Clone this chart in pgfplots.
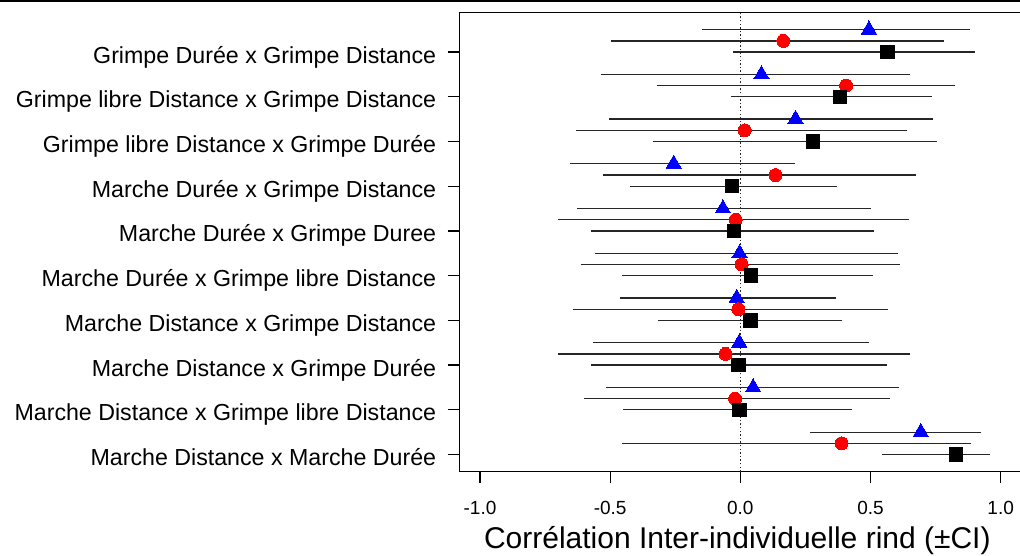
\documentclass[border=0pt]{standalone}
\usepackage{fontspec}
\setmainfont{Liberation Sans}
\usepackage{pgfplots}
\pgfplotsset{compat=1.18}
\usepackage{pgfplotstable}

% squares (black): y = category position
\pgfplotstableread{
y x lo hi
10 0.565 -0.030 0.901
9 0.383 -0.037 0.736
8 0.279 -0.335 0.754
7 -0.032 -0.425 0.372
6 -0.024 -0.573 0.513
5 0.042 -0.455 0.508
4 0.039 -0.317 0.390
3 -0.007 -0.573 0.565
2 -0.004 -0.451 0.429
1 0.828 0.544 0.958
}\sqtab

% circles (red)
\pgfplotstableread{
y x lo hi
10.25 0.165 -0.496 0.783
9.25 0.406 -0.321 0.826
8.25 0.017 -0.630 0.641
7.25 0.135 -0.526 0.675
6.25 -0.018 -0.701 0.646
5.25 0.005 -0.612 0.614
4.25 -0.008 -0.643 0.569
3.25 -0.057 -0.701 0.651
2.25 -0.020 -0.602 0.575
1.25 0.389 -0.454 0.887
}\cirtab

% triangles (blue)
\pgfplotstableread{
y x lo hi
10.5 0.494 -0.149 0.883
9.5 0.081 -0.535 0.651
8.5 0.212 -0.506 0.740
7.5 -0.256 -0.653 0.209
6.5 -0.067 -0.626 0.500
5.5 -0.003 -0.559 0.604
4.5 -0.014 -0.464 0.367
3.5 -0.004 -0.567 0.494
2.5 0.049 -0.516 0.608
1.5 0.693 0.268 0.924
}\tritab

\begin{document}
\begin{tikzpicture}[x=1pt,y=1pt]
\draw[line width=1.6pt] (0,554.2) -- (1020,554.2);
\begin{axis}[
  at={(459.2pt,83.5pt)}, anchor=south west,
  scale only axis, width=562.3pt, height=458.8pt,
  xmin=-1.08, xmax=1.08, ymin=0.62, ymax=10.88,
  axis line style={line width=1.4pt},
  xtick={-1,-0.5,0,0.5,1},
  xticklabels={-1.0,-0.5,0.0,0.5,1.0},
  ytick={1,2,3,4,5,6,7,8,9,10},
  yticklabels={Marche Distance x Marche Durée,
    Marche Distance x Grimpe libre Distance,
    Marche Distance x Grimpe Durée,
    Marche Distance x Grimpe Distance,
    Marche Durée x Grimpe libre Distance,
    Marche Durée x Grimpe Duree,
    Marche Durée x Grimpe Distance,
    Grimpe libre Distance x Grimpe Durée,
    Grimpe libre Distance x Grimpe Distance,
    Grimpe Durée x Grimpe Distance},
  tick align=outside, xtick pos=bottom, ytick pos=left,
  major tick length=11.5pt,
  every tick/.style={line width=1.3pt, black},
  xticklabel style={font=\fontsize{19}{21}\selectfont, anchor=base, yshift=-31.3pt},
  yticklabel style={font=\fontsize{23.2}{26}\selectfont, anchor=base east, xshift=-8pt, yshift=-11pt},
  xlabel={Corrélation Inter-individuelle rind (±CI)},
  xlabel style={font=\fontsize{30}{32}\selectfont, at={(axis description cs:0.5,0)}, anchor=base, xshift=-3pt, yshift=-76.8pt},
  clip=false,
  error bars/error bar style={line width=1.3pt, black!85},
]
\draw[line width=1.3pt, dash pattern=on 1.4pt off 2.2pt, black!85] (axis cs:0,0.62) -- (axis cs:0,10.88);

\addplot[only marks, mark=triangle*, mark size=8.8pt,
  mark options={fill=blue, draw=blue, line width=0pt},
  error bars/.cd, x dir=both, x explicit, error mark=none]
  table[x=x, y=y, x error plus expr=\thisrow{hi}-\thisrow{x}, x error minus expr=\thisrow{x}-\thisrow{lo}] {\tritab};

\addplot[only marks, mark=*, mark size=6.5pt,
  mark options={fill=red, draw=red, line width=0pt},
  error bars/.cd, x dir=both, x explicit, error mark=none]
  table[x=x, y=y, x error plus expr=\thisrow{hi}-\thisrow{x}, x error minus expr=\thisrow{x}-\thisrow{lo}] {\cirtab};

\addplot[only marks, mark=square*, mark size=6.7pt,
  mark options={fill=black, draw=black, line width=0pt},
  error bars/.cd, x dir=both, x explicit, error mark=none]
  table[x=x, y=y, x error plus expr=\thisrow{hi}-\thisrow{x}, x error minus expr=\thisrow{x}-\thisrow{lo}] {\sqtab};
\end{axis}
\pgfresetboundingbox
\path[use as bounding box] (0,0) rectangle (1020,555);
\end{tikzpicture}
\end{document}
